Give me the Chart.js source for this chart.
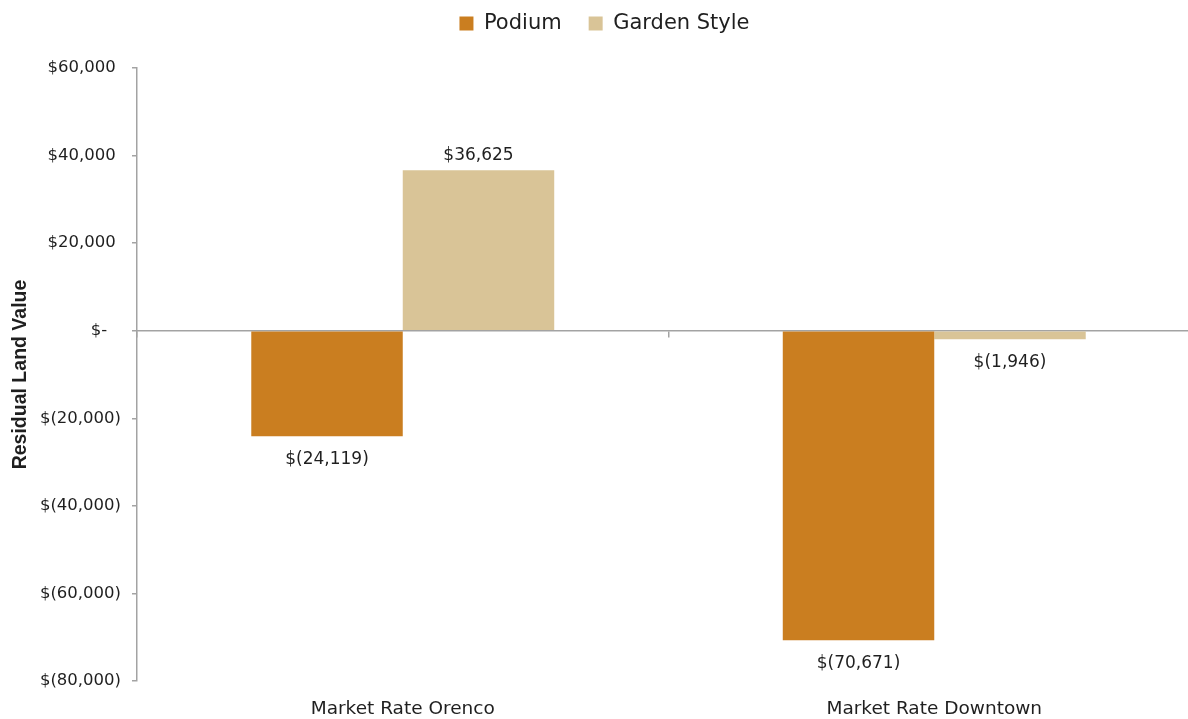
<!DOCTYPE html>
<html>
<head>
<meta charset="utf-8">
<script src="https://cdn.jsdelivr.net/npm/chart.js@4.4.1/dist/chart.umd.min.js"></script>
<style>
  html, body { margin: 0; padding: 0; overflow: hidden; background: #ffffff; }
  #wrap { position: absolute; left: 0; top: 0; width: 1200px; height: 719px; }
</style>
</head>
<body>
<div id="wrap"><canvas id="c" width="1200" height="719"></canvas></div>
<script>
// ---- data ----
const categories = ["Market Rate Orenco", "Market Rate Downtown"];
const podiumValues = [-24119, -70671];
const gardenValues = [36625, -1946];
const seriesNames = ["Podium", "Garden Style"];
const yAxisTitle = "Residual Land Value";
const yMin = -80000;
const yMax = 60000;
const yStep = 20000;

// ---- style ----
const podiumColor = "#CA7E20";
const gardenColor = "#D9C497";
const axisGray = "#A3A3A3";
const textColor = "#1f1f1f";
const baseFont = "'DejaVu Sans', 'Noto Sans', sans-serif";

function fmtMoney(v) {
  if (v === 0) return "$-";
  const s = Math.abs(v).toLocaleString("en-US");
  return v < 0 ? "$(" + s + ")" : "$" + s;
}
function fmtTick(v) {
  if (v === 0) return "$-  \u2009";
  return v < 0 ? fmtMoney(v) : fmtMoney(v) + " ";
}

const dataLabelPlugin = {
  id: "dataLabels",
  afterDatasetsDraw(chart) {
    const ctx = chart.ctx;
    ctx.save();
    ctx.font = "17px " + baseFont;
    ctx.fillStyle = textColor;
    ctx.textAlign = "center";
    ctx.textBaseline = "middle";
    chart.data.datasets.forEach((ds, di) => {
      const meta = chart.getDatasetMeta(di);
      meta.data.forEach((el, i) => {
        const v = ds.data[i];
        const y = v >= 0 ? el.y - 15 : el.y + 23;
        ctx.fillText(fmtMoney(v), el.x, y);
      });
    });
    ctx.restore();
  }
};

new Chart(document.getElementById("c"), {
  type: "bar",
  data: {
    labels: categories,
    datasets: [
      { label: seriesNames[0], data: podiumValues, backgroundColor: podiumColor, borderWidth: 0,
        categoryPercentage: 0.57, barPercentage: 1.0 },
      { label: seriesNames[1], data: gardenValues, backgroundColor: gardenColor, borderWidth: 0,
        categoryPercentage: 0.57, barPercentage: 1.0 }
    ]
  },
  options: {
    responsive: false,
    animation: false,
    layout: { padding: { top: -14, left: 9, right: 0, bottom: 0 } },
    plugins: {
      tooltip: { enabled: false },
      legend: {
        position: "top",
        weight: 3000,
        labels: {
          boxWidth: 14, boxHeight: 14, padding: 27,
          color: textColor,
          font: { family: baseFont, size: 21 }
        }
      },
      title: {
        display: true,
        text: "",
        font: { size: 10, lineHeight: 1.2 },
        padding: { top: 6, bottom: 6 }
      }
    },
    scales: {
      x: {
        type: "category",
        position: "bottom",
        offset: true,
        grid: { display: false, drawTicks: false, offset: true },
        border: { display: false },
        ticks: { color: textColor, font: { family: baseFont, size: 18.5 }, padding: 17, maxRotation: 0 },
        afterFit(scale) { scale.height = 38; }
      },
      x2: {
        type: "category",
        position: { y: 0 },
        offset: true,
        grid: { offset: true, drawOnChartArea: false, drawTicks: true, tickLength: 6, color: axisGray, lineWidth: 1.5 },
        border: { display: true, color: axisGray, width: 1.5 },
        ticks: { display: false }
      },
      y: {
        min: yMin,
        max: yMax,
        ticks: {
          stepSize: yStep,
          color: textColor,
          font: { family: baseFont, size: 16.5 },
          padding: 11,
          callback: (v) => fmtTick(v)
        },
        grid: { drawOnChartArea: false, drawTicks: true, tickLength: 5, color: axisGray, lineWidth: 1.5 },
        border: { display: true, color: axisGray, width: 1.5 },
        title: {
          display: true,
          text: yAxisTitle,
          color: textColor,
          font: { family: "'Liberation Sans', Arial, sans-serif", size: 19.5, weight: "bold" },
          padding: { top: 0, bottom: 0 }
        },
        afterFit(scale) { scale.width = 128; }
      }
    }
  },
  plugins: [dataLabelPlugin]
});
</script>
</body>
</html>
